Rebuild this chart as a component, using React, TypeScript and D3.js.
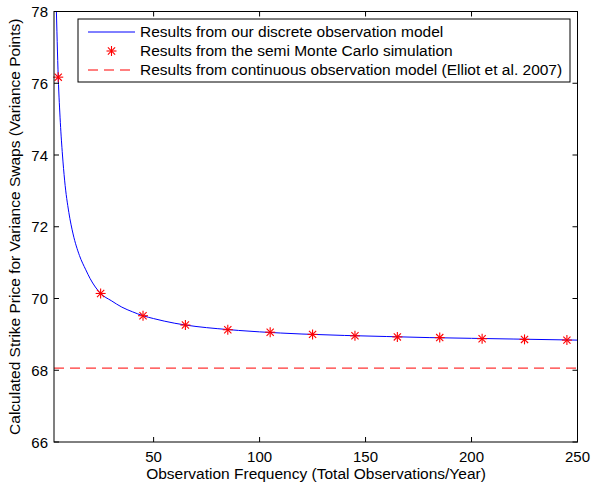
import React from "react";
import * as d3 from "d3";

const curveX = [3, 4, 5, 6, 7, 8, 10, 12, 15, 18, 20, 25, 30, 35, 40, 45, 50, 60, 70, 80, 90, 100, 120, 140, 160, 180, 200, 220, 250];
const curveY = [80.6, 78.3, 76.17, 74.9, 74.0, 73.3, 72.4, 71.8, 71.2, 70.8, 70.56, 70.14, 69.94, 69.76, 69.63, 69.52, 69.44, 69.31, 69.22, 69.16, 69.11, 69.07, 69.01, 68.97, 68.94, 68.91, 68.89, 68.87, 68.84];

const simX = [5, 25, 45, 65, 85, 105, 125, 145, 165, 185, 205, 225, 245];
const simY = [76.17, 70.14, 69.52, 69.26, 69.13, 69.06, 69.0, 68.96, 68.93, 68.91, 68.88, 68.86, 68.84];

const continuousValue = 68.06;

const xTicks = [50, 100, 150, 200, 250];
const yTicks = [66, 68, 70, 72, 74, 76, 78];

const legendLabels = [
  "Results from our discrete observation model",
  "Results from the semi Monte Carlo simulation",
  "Results from continuous observation model (Elliot et al. 2007)",
];

const xLabel = "Observation Frequency (Total Observations/Year)";
const yLabel = "Calculated Strike Price for Variance Swaps (Variance Points)";

const W = 591, H = 483;
const M = { left: 54, right: 577.5, top: 11.5, bottom: 442 };
const FONT = "'Liberation Sans', Arial, Helvetica, sans-serif";

function Star({ x, y, r = 5 }: { x: number; y: number; r?: number }) {
  const d = r * 0.72;
  return (
    <g stroke="#ff0000" strokeWidth={1.1}>
      <line x1={x - r} y1={y} x2={x + r} y2={y} />
      <line x1={x} y1={y - r} x2={x} y2={y + r} />
      <line x1={x - d} y1={y - d} x2={x + d} y2={y + d} />
      <line x1={x - d} y1={y + d} x2={x + d} y2={y - d} />
    </g>
  );
}

export default function App() {
  const x = d3.scaleLinear().domain([3, 250]).range([M.left, M.right]);
  const y = d3.scaleLinear().domain([66, 78]).range([M.bottom, M.top]);
  const pts: [number, number][] = curveX.map((v, i) => [v, curveY[i]]);
  const line = d3
    .line<[number, number]>()
    .x((d) => x(d[0]))
    .y((d) => y(d[1]))
    .curve(d3.curveMonotoneX);
  const tl = 5;
  const lx = 78, ly = 19, lw = 492, lh = 63;
  return (
    <svg width={W} height={H} style={{ position: "absolute", left: 0, top: 0, background: "#fff" }} fontFamily={FONT}>
      <rect x={0} y={0} width={W} height={H} fill="#fff" />
      <defs>
        <clipPath id="plotclip">
          <rect x={M.left} y={M.top} width={M.right - M.left} height={M.bottom - M.top} />
        </clipPath>
      </defs>
      <g clipPath="url(#plotclip)">
        <path d={line(pts) || ""} fill="none" stroke="#0000ff" strokeWidth={1} />
        <line
          x1={M.left}
          x2={M.right}
          y1={y(continuousValue)}
          y2={y(continuousValue)}
          stroke="#ff0000"
          strokeWidth={1}
          strokeDasharray="10,6"
        />
      </g>
      {simX.map((v, i) => (
        <Star key={i} x={x(v)} y={y(simY[i])} />
      ))}
      <rect x={M.left} y={M.top} width={M.right - M.left} height={M.bottom - M.top} fill="none" stroke="#000" strokeWidth={1} />
      {xTicks.map((t) => (
        <g key={"x" + t}>
          <line x1={x(t)} x2={x(t)} y1={M.bottom} y2={M.bottom - tl} stroke="#000" />
          <line x1={x(t)} x2={x(t)} y1={M.top} y2={M.top + tl} stroke="#000" />
          <text x={x(t)} y={M.bottom + 20} textAnchor="middle" fontSize={15}>
            {t}
          </text>
        </g>
      ))}
      {yTicks.map((t) => (
        <g key={"y" + t}>
          <line x1={M.left} x2={M.left + tl} y1={y(t)} y2={y(t)} stroke="#000" />
          <line x1={M.right} x2={M.right - tl} y1={y(t)} y2={y(t)} stroke="#000" />
          <text x={M.left - 6} y={y(t) + 5.5} textAnchor="end" fontSize={15}>
            {t}
          </text>
        </g>
      ))}
      <text x={316} y={M.bottom + 37} textAnchor="middle" fontSize={15.5}>
        {xLabel}
      </text>
      <text
        transform={`translate(20,${(M.top + M.bottom) / 2}) rotate(-90)`}
        textAnchor="middle"
        fontSize={15.5}
      >
        {yLabel}
      </text>
      <rect x={lx} y={ly} width={lw} height={lh} fill="#fff" stroke="#000" strokeWidth={1} />
      <line x1={88} x2={135} y1={ly + 13} y2={ly + 13} stroke="#0000ff" strokeWidth={1} />
      <Star x={111.5} y={ly + 32} />
      <line x1={88} x2={135} y1={ly + 51} y2={ly + 51} stroke="#ff0000" strokeWidth={1} strokeDasharray="10,6" />
      {legendLabels.map((s, i) => (
        <text key={i} x={140} y={ly + 13 + i * 19 + 5} fontSize={15.5}>
          {s}
        </text>
      ))}
    </svg>
  );
}
